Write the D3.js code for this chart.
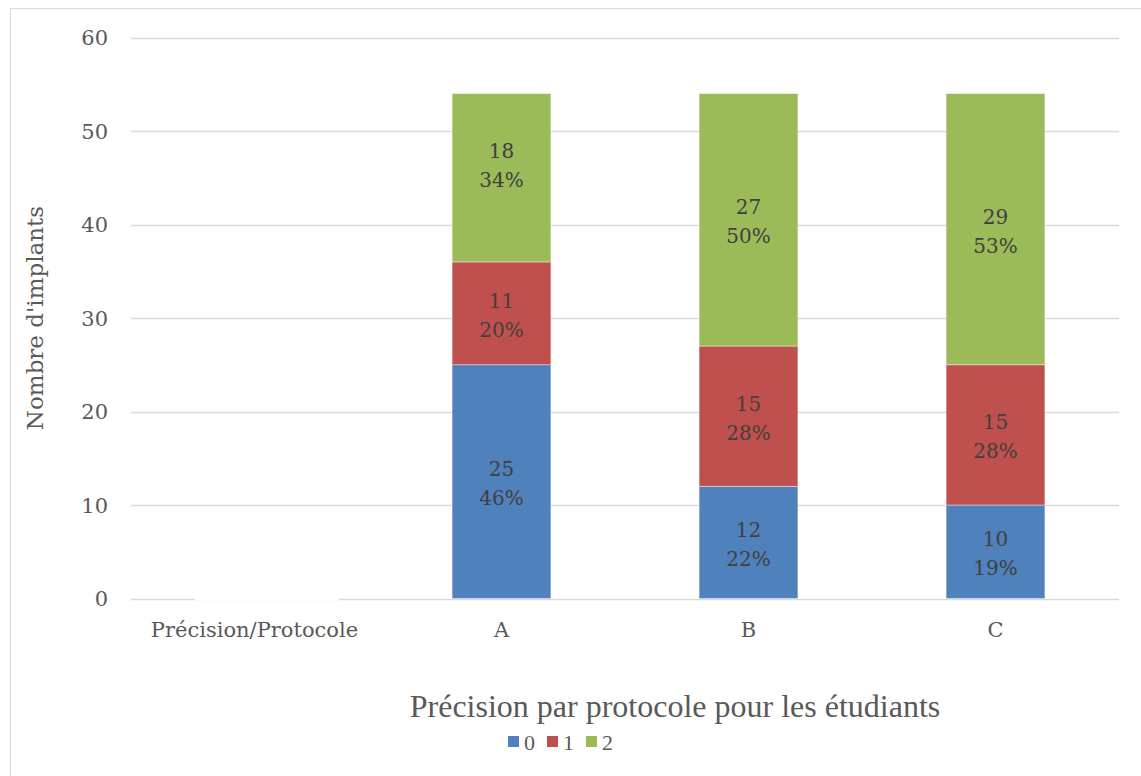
<!DOCTYPE html>
<html>
<head>
<meta charset="utf-8">
<script src="https://cdn.jsdelivr.net/npm/d3@7"></script>
<style>
  body { margin: 0; background: #fff; }
  text { font-family: "DejaVu Serif", serif; }
  .times { font-family: "Liberation Serif", serif; }
</style>
</head>
<body>
<div id="chart"></div>
<script>
const categories = ["Précision/Protocole", "A", "B", "C"];
const seriesNames = ["0", "1", "2"];
const values0 = [null, 25, 12, 10];
const values1 = [null, 11, 15, 15];
const values2 = [null, 18, 27, 29];
const pct0 = ["", "46%", "22%", "19%"];
const pct1 = ["", "20%", "28%", "28%"];
const pct2 = ["", "34%", "50%", "53%"];
const yTicks = [0, 10, 20, 30, 40, 50, 60];
const colors = ["#4F81BD", "#C0504D", "#9BBB59"];

(() => {
const width = 1141, height = 776;
const plotLeft = 131, plotRight = 1119, plotTop = 37.5, plotBottom = 598.5;
// one label was dragged up by hand in the original
const labelNudge = { "A|2": -14 };

const svg = d3.select("#chart").append("svg")
  .attr("width", width)
  .attr("height", height);

// chart border
svg.append("rect")
  .attr("x", 10.5).attr("y", 8.5)
  .attr("width", width).attr("height", height)
  .attr("fill", "none")
  .attr("stroke", "#d9d9d9");

const x = d3.scaleBand().domain(categories).range([plotLeft, plotRight]).paddingInner(0.6).paddingOuter(0.3);
const band = d3.scaleBand().domain(categories).range([plotLeft, plotRight]);
const y = d3.scaleLinear().domain([0, 60]).range([plotBottom, plotTop]);

// gridlines
svg.append("g").selectAll("line")
  .data(yTicks)
  .join("line")
  .attr("x1", plotLeft).attr("x2", plotRight)
  .attr("y1", d => Math.round(y(d)) + 0.5)
  .attr("y2", d => Math.round(y(d)) + 0.5)
  .attr("stroke", "#d9d9d9")
  .attr("stroke-width", 1.5);

// gap in the baseline under the empty first category
svg.append("rect")
  .attr("x", band(categories[0]) + 64)
  .attr("y", y(0) - 2)
  .attr("width", 144)
  .attr("height", 4)
  .attr("fill", "#fff");

// y tick labels
svg.append("g").selectAll("text")
  .data(yTicks)
  .join("text")
  .attr("x", 108)
  .attr("y", d => y(d))
  .attr("dy", "0.36em")
  .attr("text-anchor", "end")
  .attr("fill", "#595959")
  .style("font-size", "21px")
  .text(d => d);

// stacked data
const rows = categories.map((c, i) => ({
  cat: c, "0": values0[i] || 0, "1": values1[i] || 0, "2": values2[i] || 0,
  p: [pct0[i], pct1[i], pct2[i]], v: [values0[i], values1[i], values2[i]]
}));
const stack = d3.stack().keys(seriesNames)(rows);

const layers = svg.append("g").selectAll("g")
  .data(stack)
  .join("g")
  .attr("fill", (d, i) => colors[i]);

layers.selectAll("rect")
  .data(d => d.filter(s => s[1] > s[0]))
  .join("rect")
  .attr("x", d => x(d.data.cat))
  .attr("width", x.bandwidth())
  .attr("y", d => y(d[1]))
  .attr("height", d => y(d[0]) - y(d[1]))
  .attr("stroke", "#fff")
  .attr("stroke-opacity", 0.5)
  .attr("stroke-width", 0.8);

// labels
stack.forEach((layer, k) => {
  layer.filter(s => s[1] > s[0]).forEach(s => {
    const cx = x(s.data.cat) + x.bandwidth() / 2;
    const cy = (y(s[0]) + y(s[1])) / 2 + (labelNudge[s.data.cat + "|" + k] || 0);
    const t = svg.append("text")
      .attr("text-anchor", "middle")
      .attr("fill", "#404040")
      .style("font-size", "20px");
    t.append("tspan").attr("x", cx).attr("y", cy - 5.5).text(s.data.v[k]);
    t.append("tspan").attr("x", cx).attr("y", cy + 23.5).text(s.data.p[k]);
  });
});

// category labels
svg.append("g").selectAll("text")
  .data(categories)
  .join("text")
  .attr("x", d => band(d) + band.bandwidth() / 2)
  .attr("y", 637)
  .attr("text-anchor", "middle")
  .attr("fill", "#595959")
  .style("font-size", "21px")
  .text(d => d);

// y axis title
svg.append("text")
  .attr("transform", `translate(35, ${(plotTop + plotBottom) / 2}) rotate(-90)`)
  .attr("text-anchor", "middle")
  .attr("dy", "0.35em")
  .attr("fill", "#595959")
  .style("font-size", "23px")
  .text("Nombre d'implants");

// x axis title
svg.append("text")
  .attr("class", "times")
  .attr("x", 675)
  .attr("y", 717)
  .attr("text-anchor", "middle")
  .attr("fill", "#595959")
  .style("font-size", "32px")
  .text("Précision par protocole pour les étudiants");

// legend
const legend = svg.append("g").attr("transform", "translate(508, 742)");
seriesNames.forEach((s, i) => {
  const g = legend.append("g").attr("transform", `translate(${i * 39}, 0)`);
  g.append("rect").attr("x", 0).attr("y", -6).attr("width", 11).attr("height", 11).attr("fill", colors[i]);
  g.append("text").attr("class", "times").attr("x", 16).attr("y", 0).attr("dy", "0.35em")
    .attr("fill", "#595959").style("font-size", "22px").text(s);
});
})();
</script>
</body>
</html>
